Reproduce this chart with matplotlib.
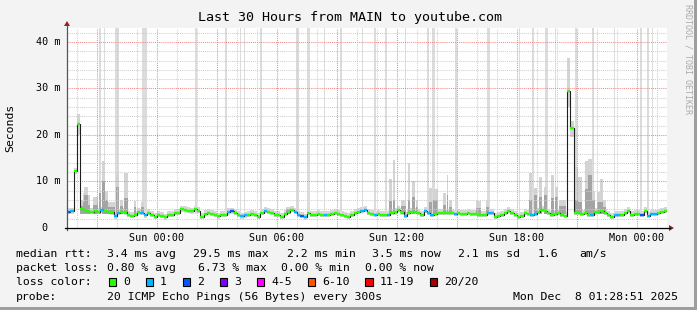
import matplotlib
matplotlib.use("Agg")
import matplotlib.pyplot as plt
from matplotlib.lines import Line2D
from matplotlib.patches import Polygon, Rectangle

W, H = 697, 310
STEP_H = 1 / 6  # median rtt is sampled every 10 minutes, hours since Sat 19:30

# median rtt per step (ms)
median_ms = [
    3.5, 3.6, 12.2, 22.4, 4.0, 3.9, 3.7, 3.5, 3.6, 3.5,
    3.8, 3.7, 3.5, 3.4, 2.5, 3.3, 3.5, 3.4, 2.8, 2.6,
    2.8, 3.4, 3.2, 2.7, 3.2, 2.9, 2.4, 2.8, 2.6, 2.3,
    2.8, 2.9, 3.2, 3.3, 4.0, 3.9, 3.7, 3.6, 4.0, 3.7,
    2.4, 3.0, 3.2, 3.1, 2.8, 2.5, 2.8, 2.9, 3.4, 3.6,
    3.2, 2.9, 2.5, 2.7, 2.9, 3.0, 2.8, 2.4, 3.2, 3.7,
    3.5, 3.3, 2.9, 2.8, 2.4, 3.0, 3.5, 3.9, 3.5, 2.8,
    2.6, 2.3, 3.2, 2.9, 2.9, 3.0, 2.9, 2.9, 2.8, 3.0,
    3.3, 3.0, 2.8, 2.6, 2.4, 2.9, 3.3, 3.5, 3.7, 3.9,
    3.3, 3.0, 2.8, 3.0, 2.8, 2.9, 2.9, 3.2, 3.4, 3.9,
    3.4, 2.6, 3.2, 3.5, 3.5, 3.2, 2.9, 3.7, 3.3, 2.9,
    3.0, 3.2, 3.2, 3.2, 3.3, 3.2, 3.0, 3.2, 3.0, 3.0,
    3.2, 3.1, 3.0, 2.9, 2.8, 2.9, 3.3, 3.2, 2.4, 2.6,
    2.8, 3.2, 3.7, 3.3, 2.8, 2.4, 2.6, 3.2, 3.0, 2.9,
    3.0, 3.5, 3.9, 3.7, 3.2, 2.8, 3.0, 3.3, 2.8, 2.6,
    29.5, 21.4, 3.3, 3.2, 3.0, 3.3, 2.9, 2.8, 3.4, 3.5,
    3.7, 3.2, 2.8, 2.4, 2.9, 2.9, 2.8, 3.2, 3.7, 2.8,
    3.0, 3.0, 2.9, 3.7, 2.6, 3.0, 3.0, 3.3, 3.5, 3.7,
]

# loss colour class per step (index into loss_names)
loss_level = [
    2, 1, 0, 0, 0, 0, 0, 0, 0, 0, 1, 0, 0, 0, 1, 1, 0, 0, 0, 0,
    0, 0, 1, 1, 0, 0, 0, 0, 0, 0, 0, 0, 0, 0, 0, 0, 0, 0, 0, 0,
    0, 0, 0, 0, 0, 0, 0, 0, 1, 2, 0, 0, 1, 1, 0, 0, 0, 0, 0, 1,
    0, 0, 0, 0, 0, 0, 0, 0, 1, 1, 2, 1, 0, 0, 0, 0, 0, 1, 0, 0,
    0, 0, 0, 0, 0, 0, 0, 0, 1, 1, 0, 0, 1, 0, 0, 0, 1, 0, 0, 0,
    0, 1, 0, 0, 0, 0, 0, 1, 1, 1, 0, 0, 0, 0, 0, 0, 1, 0, 0, 0,
    0, 0, 0, 0, 0, 0, 1, 1, 0, 0, 0, 0, 0, 0, 0, 0, 0, 0, 0, 1,
    1, 0, 0, 0, 0, 0, 0, 0, 0, 0, 0, 0, 0, 0, 0, 0, 0, 1, 0, 0,
    0, 0, 0, 0, 1, 1, 0, 0, 0, 0, 0, 0, 2, 0, 1, 1, 1, 0, 0, 0,
]

# pings far above the graph top (light smoke up to the top)
tall_start_h = [1.60, 1.83, 2.42, 3.75, 6.42, 7.90, 8.63, 8.83, 9.65, 11.45,
                12.00, 12.83, 13.65, 14.73, 15.35, 15.90, 16.88, 18.00, 18.23, 19.41,
                21.00, 22.58, 23.25, 23.90, 24.38, 25.40, 26.25, 27.33, 28.65, 29.00,
                29.23]
tall_minutes = [5, 5, 10, 15, 5, 5, 5, 5, 5, 10,
                10, 5, 5, 5, 5, 5, 5, 5, 10, 5,
                10, 5, 5, 10, 5, 5, 5, 5, 5, 5,
                5]

# smoke clusters: start (h), duration (min), lowest / highest ping, dense part (ms)
smoke_start_h = [0.50, 0.67, 0.80, 0.87, 1.00, 1.30, 1.62, 1.73, 1.90, 2.05,
                 2.45, 2.65, 2.87, 3.37, 3.70, 10.95, 16.10, 16.30, 16.70, 17.05,
                 17.25, 17.45, 18.10, 18.30, 18.78, 18.98, 19.10, 20.45, 20.95, 23.10,
                 23.35, 23.60, 23.85, 24.20, 24.40, 24.60, 25.00, 25.17, 25.40, 25.57,
                 25.90, 26.07, 26.24, 26.50, 26.65, 26.80]
smoke_minutes = [10, 10, 5, 10, 10, 15, 5, 10, 10, 20,
                 10, 10, 10, 5, 10, 15, 10, 5, 15, 5,
                 10, 5, 10, 15, 10, 5, 10, 15, 10, 10,
                 10, 10, 10, 10, 10, 20, 10, 10, 10, 10,
                 10, 10, 10, 10, 10, 10]
smoke_low_ms = [20.0, 3.0, 3.0, 3.0, 3.0, 3.0, 3.0, 3.0, 3.0, 3.0,
                3.0, 3.0, 3.0, 3.0, 3.0, 3.0, 3.0, 3.0, 3.0, 3.0,
                3.0, 3.0, 3.0, 3.0, 3.0, 3.0, 3.0, 3.0, 3.0, 3.0,
                3.0, 3.0, 3.0, 3.0, 3.0, 3.0, 26.0, 19.5, 3.0, 3.0,
                3.0, 3.0, 3.0, 3.0, 3.0, 3.0]
smoke_light_ms = [24.5, 6.0, 7.5, 8.9, 7.0, 6.7, 9.6, 14.3, 8.0, 5.5,
                  11.6, 6.0, 11.8, 5.7, 5.5, 4.6, 10.5, 14.6, 6.0, 13.9,
                  10.0, 6.0, 8.5, 8.3, 7.5, 11.4, 6.0, 5.7, 6.0, 11.8,
                  8.5, 11.0, 8.9, 11.4, 8.9, 6.0, 36.5, 23.0, 13.2, 11.0,
                  14.3, 14.8, 8.0, 7.7, 10.5, 6.0]
smoke_dark_ms = [20.0, 4.8, 5.5, 7.1, 5.0, 5.0, 7.6, 10.0, 6.0, 4.5,
                 8.9, 4.8, 6.5, 4.6, 4.5, 4.0, 5.7, 6.0, 4.8, 6.0,
                 6.7, 4.5, 5.5, 6.0, 5.0, 7.0, 4.5, 4.3, 4.5, 6.0,
                 7.1, 6.7, 7.0, 6.5, 6.7, 4.8, 26.0, 19.5, 6.0, 5.5,
                 8.3, 11.4, 6.0, 5.5, 5.5, 4.5]

time_label_h = [4.5, 10.5, 16.5, 22.5, 28.5]
time_labels = ["Sun 00:00", "Sun 06:00", "Sun 12:00", "Sun 18:00", "Mon 00:00"]
y_ticks = [0, 10, 20, 30, 40]

loss_names = ["0", "1", "2", "3", "4-5", "6-10", "11-19", "20/20"]
loss_colors = ["#26ff00", "#00b8ff", "#0059ff", "#7e00ff", "#ff00ff", "#ff5500", "#ff0000", "#a10000"]

rtt_stats = [3.4, 29.5, 2.2, 3.5, 2.1]
rtt_kinds = ["avg", "max", "min", "now", "sd"]
am_per_s = 1.6
loss_stats = [0.80, 6.73, 0.00, 0.00]
loss_kinds = ["avg", "max", "min", "now"]

MONO = "DejaVu Sans Mono"
plt.rcParams["font.family"] = MONO


def fx(x):
    return x / W


def fy(y):
    return 1 - y / H


fig = plt.figure(figsize=(W / 100, H / 100), dpi=100, facecolor="#f3f3f3")
ax = fig.add_axes([fx(67), fy(228), 600 / W, 200 / H])
ax.set_facecolor("white")
ax.set_xlim(0, 30)
ax.set_ylim(0, 43.0)
for s in ax.spines.values():
    s.set_visible(False)
ax.set_xticks([])
ax.set_yticks([])

n = len(median_ms)
t = [i * STEP_H for i in range(n)]
t_edges = t + [n * STEP_H]

# thin smoke around the median
lo = [m - 0.5 for m in median_ms]
hi = [m + 0.8 for m in median_ms]
ax.fill_between(t_edges, lo + lo[-1:], hi + hi[-1:], step="post", color="#d6d6d6", lw=0, zorder=1)

# outliers above the top
ax.bar(tall_start_h, 50, width=[m / 60 for m in tall_minutes], bottom=3.0,
       align="edge", color="#dcdcdc", lw=0, zorder=1.1)

# smoke clusters
sw = [m / 60 for m in smoke_minutes]
ax.bar(smoke_start_h, [h - l for h, l in zip(smoke_light_ms, smoke_low_ms)], width=sw,
       bottom=smoke_low_ms, align="edge", color="#d4d4d4", lw=0, zorder=1.2)
ax.bar(smoke_start_h, [max(d - l, 0) for d, l in zip(smoke_dark_ms, smoke_low_ms)], width=sw,
       bottom=smoke_low_ms, align="edge", color="#a4a4a4", lw=0, zorder=1.3)

# grid
dots = (0, (1, 1))
for h in range(30):
    hx = h + 0.5
    major = (h - 1) % 3 == 0
    ax.axvline(hx, color="#f28a8a" if major else "#cfcfcf", lw=0.75, ls=dots, zorder=2)
for v in range(2, 44, 2):
    ax.axhline(v, color="#f28a8a" if v % 10 == 0 else "#cfcfcf", lw=0.75, ls=dots, zorder=2)

# median line and loss colours
ax.step(t_edges, median_ms + median_ms[-1:], where="post", color="#202020", lw=0.8, zorder=3)
for k, c in enumerate(loss_colors):
    idx = [i for i in range(n) if loss_level[i] == k]
    if idx:
        ax.hlines([median_ms[i] for i in idx], [t[i] for i in idx],
                  [t[i] + STEP_H for i in idx], colors=c, lw=1.7, zorder=3.5)

# tick labels
for v in y_ticks:
    if v == 0:
        ax.text(-0.975, v, "0", ha="right", va="center", fontsize=7.3, clip_on=False)
    else:
        ax.text(-0.35, v, f"{v} m", ha="right", va="center", fontsize=7.3, clip_on=False)
for h, lab in zip(time_label_h, time_labels):
    ax.text(h, -2.05, lab, ha="center", va="center", fontsize=7.3, clip_on=False)

# axes with arrows
fig.add_artist(Line2D([fx(67), fx(67)], [fy(230), fy(25)], color="#555555", lw=0.9))
fig.add_artist(Line2D([fx(65), fx(670)], [fy(228), fy(228)], color="#000000", lw=0.9))
fig.add_artist(Polygon([(fx(64), fy(26)), (fx(70), fy(26)), (fx(67), fy(21))],
                       closed=True, color="#9b1c1c", lw=0))
fig.add_artist(Polygon([(fx(669), fy(225)), (fx(669), fy(231)), (fx(674), fy(228))],
                       closed=True, color="#9b1c1c", lw=0))

# titles
fig.text(fx(350), fy(18), "Last 30 Hours from MAIN to youtube.com", ha="center", va="center", fontsize=9.6)
fig.text(fx(10), fy(128), "Seconds", rotation=90, ha="center", va="center", fontsize=8.25)
fig.text(fx(688), fy(4), "RRDTOOL / TOBI OETIKER", rotation=270, ha="center", va="top",
         fontsize=6, color="#aaaaaa")

# legend
LS = 8.25
row1, row2, row3, row4 = 254, 268, 282, 296.5
fig.text(fx(16), fy(row1), "median rtt:", ha="left", va="center", fontsize=LS)
for x, v, k in zip([107.3, 193.3, 286.7, 372.3, 458.3], rtt_stats, rtt_kinds):
    fig.text(fx(x), fy(row1), f"{v:.1f} ms {k}", ha="left", va="center", fontsize=LS)
fig.text(fx(537.7), fy(row1), f"{am_per_s:.1f}", ha="left", va="center", fontsize=LS)
fig.text(fx(579.3), fy(row1), "am/s", ha="left", va="center", fontsize=LS)

fig.text(fx(16), fy(row2), "packet loss:", ha="left", va="center", fontsize=LS)
for x, v, k in zip([107.3, 198.3, 281.3, 365.0], loss_stats, loss_kinds):
    fig.text(fx(x), fy(row2), f"{v:.2f} % {k}", ha="left", va="center", fontsize=LS)

fig.text(fx(16), fy(row3), "loss color:", ha="left", va="center", fontsize=LS)
bx = 108.7
for name, c in zip(loss_names, loss_colors):
    fig.add_artist(Rectangle((fx(bx), fy(286)), 7.3 / W, 8 / H, facecolor=c,
                             edgecolor="black", lw=0.8))
    fig.text(fx(bx + 14.3), fy(row3), name, ha="left", va="center", fontsize=LS)
    bx += 30.1 + 6.9 * len(name)

fig.text(fx(16), fy(row4), "probe:", ha="left", va="center", fontsize=LS)
fig.text(fx(107.3), fy(row4), "20 ICMP Echo Pings (56 Bytes) every 300s", ha="left", va="center", fontsize=LS)
fig.text(fx(678), fy(row4), "Mon Dec  8 01:28:51 2025", ha="right", va="center", fontsize=LS)

# frame
fig.add_artist(Rectangle((0, 0), 1, 3 / H, color="#9e9e9e", lw=0))
fig.add_artist(Rectangle((1 - 3 / W, 0), 3 / W, 1, color="#9e9e9e", lw=0))

fig.savefig("out.png", dpi=100, facecolor=fig.get_facecolor())
